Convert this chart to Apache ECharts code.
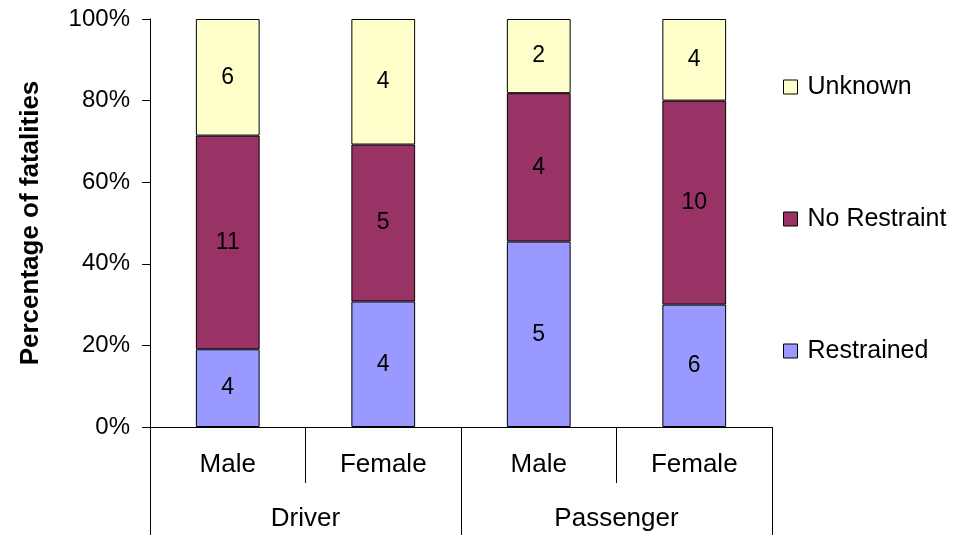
<!DOCTYPE html>
<html>
<head>
<meta charset="utf-8">
<script src="https://cdn.jsdelivr.net/npm/echarts@6/dist/echarts.min.js"></script>
<style>
    html, body { margin: 0; padding: 0; background: #fff; }
    #chart { width: 955px; height: 535px; }
</style>
</head>
<body>
<div id="chart"></div>
<script>
    // fatalities by seat position / sex, counts per restraint status
    const sexLabels = ['Male', 'Female', 'Male', 'Female']
    const groupLabels = ['Driver', 'Passenger']
    const restrained = [4, 4, 5, 6]
    const noRestraint = [11, 5, 4, 10]
    const unknown = [6, 4, 2, 4]
    const yTicks = [0, 20, 40, 60, 80, 100]

    const counts = [restrained, noRestraint, unknown]
    const names = ['Restrained', 'No Restraint', 'Unknown']
    const colors = ['#9999FF', '#993366', '#FFFFCC']
    const totals = restrained.map((v, i) => v + noRestraint[i] + unknown[i])

    const font = 'Liberation Sans, Arial, sans-serif'

    const series = counts.map((arr, si) => ({
        name: names[si],
        type: 'bar',
        stack: 'total',
        barWidth: '41%',
        xAxisIndex: 0,
        itemStyle: { color: colors[si], borderColor: '#000', borderWidth: 1 },
        label: {
            show: true,
            position: 'inside',
            color: '#000',
            fontSize: 23,
            fontFamily: font,
            formatter: p => counts[si][p.dataIndex]
        },
        data: arr.map((v, i) => v / totals[i] * 100)
    }))

    const option = {
        animation: false,
        grid: { left: 150, right: 183, top: 19, bottom: 108 },
        legend: {
            orient: 'vertical',
            left: 778,
            top: 69,
            itemGap: 106,
            itemWidth: 14,
            itemHeight: 14,
            icon: 'rect',
            data: ['Unknown', 'No Restraint', 'Restrained'],
            itemStyle: { borderColor: '#000', borderWidth: 1 },
            textStyle: { fontSize: 25, fontFamily: font, color: '#000', lineHeight: 26, padding: [0, 0, 0, 5] }
        },
        xAxis: [
            {
                type: 'category',
                data: sexLabels,
                position: 'bottom',
                axisLine: { show: true, lineStyle: { color: '#000', width: 1 } },
                axisTick: { show: true, interval: 0, length: 56, lineStyle: { color: '#000' } },
                axisLabel: { interval: 0, margin: 25, fontSize: 26, fontFamily: font, color: '#000' },
                splitLine: { show: false }
            },
            {
                type: 'category',
                data: groupLabels,
                position: 'bottom',
                axisLine: { show: false },
                axisTick: { show: true, interval: 0, length: 108, lineStyle: { color: '#000' } },
                axisLabel: { interval: 0, margin: 79, fontSize: 26, fontFamily: font, color: '#000' },
                splitLine: { show: false }
            }
        ],
        yAxis: {
            type: 'value',
            min: yTicks[0],
            max: yTicks[yTicks.length - 1],
            interval: 20,
            name: 'Percentage of fatalities',
            nameLocation: 'middle',
            nameRotate: 90,
            nameGap: 106,
            nameTextStyle: { fontSize: 26, fontWeight: 'bold', fontFamily: font, color: '#000' },
            axisLine: { show: true, lineStyle: { color: '#000', width: 1 } },
            axisTick: { show: true, length: 8, lineStyle: { color: '#000' } },
            axisLabel: { margin: 20, fontSize: 24, fontFamily: font, color: '#000', formatter: '{value}%' },
            splitLine: { show: false }
        },
        series: series
    }

    const chart = echarts.init(document.getElementById('chart'))
    chart.setOption(option)
</script>
</body>
</html>
